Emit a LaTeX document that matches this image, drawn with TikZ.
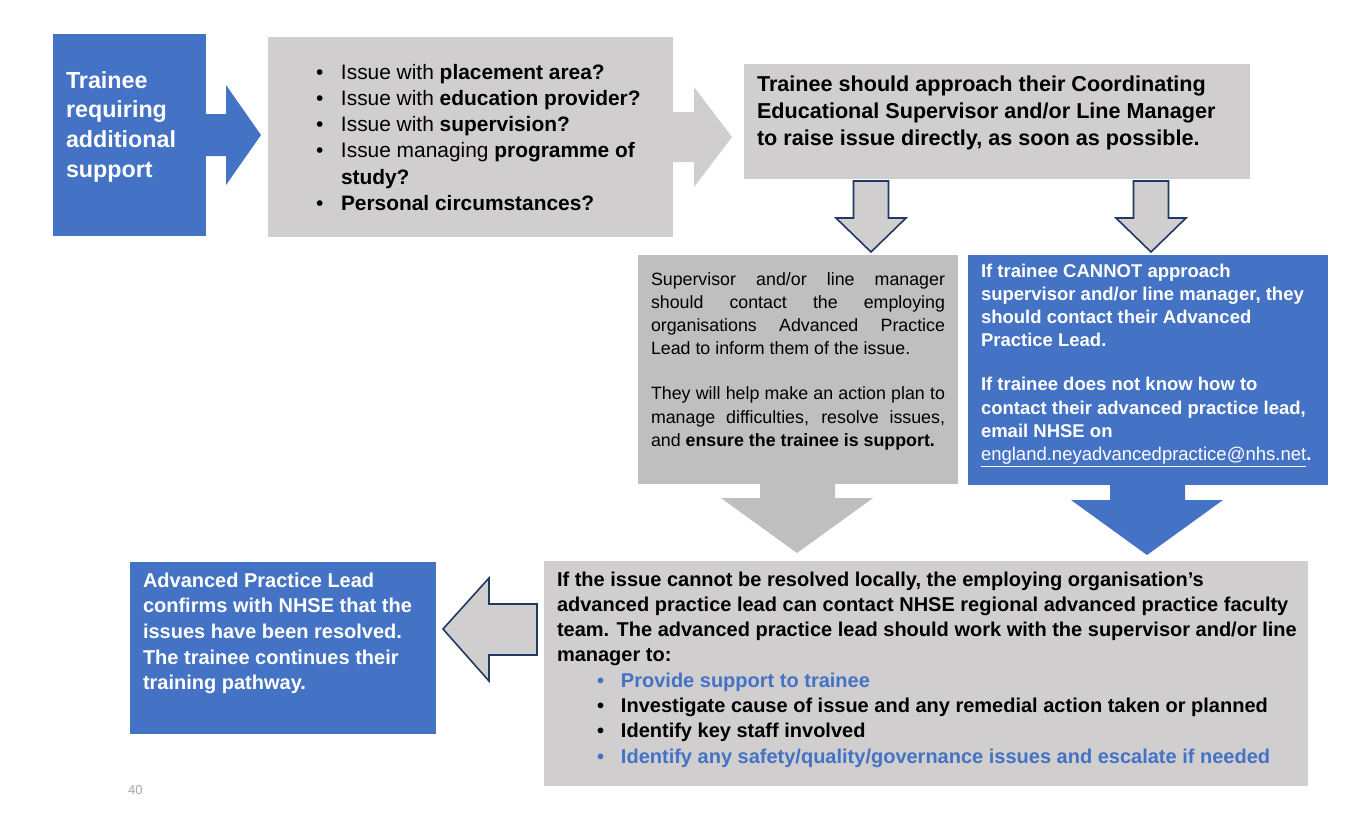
\documentclass[tikz,border=0pt]{standalone}
\usepackage{fontspec}
\setmainfont{Liberation Sans}
\definecolor{bblue}{HTML}{4472C4}
\definecolor{lgrey}{HTML}{D0CECE}
\definecolor{mgrey}{HTML}{BFBFBF}
\definecolor{navy}{HTML}{203864}
\definecolor{pgnum}{HTML}{A6A6A6}
\newcommand\bul[1]{\makebox[#1][l]{\textbullet}}
\begin{document}
\begin{tikzpicture}[x=1pt,y=-1pt,
  box/.style={draw=none, inner sep=0pt, outer sep=0pt, anchor=north west},
  txt/.style={inner sep=0pt, outer sep=0pt, anchor=north west, align=left},
  outarrow/.style={fill=lgrey, draw=navy, line width=1.6pt, line join=miter}]
\useasboundingbox (0,0) rectangle (1369,823);
\fill[white] (0,0) rectangle (1369,823);
% boxes
\node[box, fill=bblue, minimum width=153pt, minimum height=202pt] (b1) at (53,34) {};
\node[box, fill=lgrey, minimum width=405pt, minimum height=200pt] (b2) at (268,37) {};
\node[box, fill=lgrey, minimum width=506pt, minimum height=115pt] (b3) at (744,64) {};
\node[box, fill=mgrey, minimum width=320pt, minimum height=229pt] (b4) at (638,255) {};
\node[box, fill=bblue, minimum width=360pt, minimum height=230pt] (b5) at (968,255) {};
\node[box, fill=lgrey, minimum width=764pt, minimum height=225pt] (b6) at (544,561) {};
\node[box, fill=bblue, minimum width=306pt, minimum height=172pt] (b7) at (130,562) {};
% block arrows
\fill[bblue] (206,114) -- (226,114) -- (226,85) -- (261,135) -- (226,185) -- (226,156) -- (206,156) -- cycle;
\fill[lgrey] (673,112) -- (694,112) -- (694,87) -- (732,137) -- (694,187) -- (694,162) -- (673,162) -- cycle;
\draw[outarrow] (853.5,181) -- (888.5,181) -- (888.5,218) -- (906,218) -- (871,252) -- (836,218) -- (853.5,218) -- cycle;
\draw[outarrow] (1133.5,181) -- (1168.5,181) -- (1168.5,218) -- (1186,218) -- (1151,252) -- (1116,218) -- (1133.5,218) -- cycle;
\fill[mgrey] (760,483) -- (835,483) -- (835,498) -- (873,498) -- (797,553) -- (721,498) -- (760,498) -- cycle;
\fill[bblue] (1110,484) -- (1185,484) -- (1185,500) -- (1223,500) -- (1147,555) -- (1071,500) -- (1110,500) -- cycle;
\draw[outarrow] (537,604) -- (537,655) -- (489,655) -- (489,681) -- (443,629) -- (489,578) -- (489,604) -- cycle;
% texts
\node[txt, text=white, font=\fontsize{23.3}{29.9}\selectfont\bfseries] (t1) at (66,69.4)
  {\rule{0pt}{18.6pt}Trainee\\requiring\\additional\\support};
\node[txt, font=\fontsize{20.9}{26.3}\selectfont] (t2) at (316,62.3)
  {\rule{0pt}{16.7pt}\bul{25pt}Issue with \textbf{placement area?}\\
   \bul{25pt}Issue with \textbf{education provider?}\\
   \bul{25pt}Issue with \textbf{supervision?}\\
   \bul{25pt}Issue managing \textbf{programme of}\\
   \hspace*{25pt}\textbf{study?}\\
   \bul{25pt}\textbf{Personal circumstances?}};
\node[txt, font=\fontsize{21.6}{27}\selectfont\bfseries] (t3) at (757,73.7)
  {\rule{0pt}{17.3pt}Trainee should approach their Coordinating\\
   Educational Supervisor and/or Line Manager\\
   to raise issue directly, as soon as possible.};
\node[txt, text width=294pt, align=justify, font=\fontsize{17.8}{23.3}\selectfont] (t4) at (651,268.7)
  {\hyphenpenalty=10000 \parindent=0pt \strut Supervisor and/or line manager\linebreak should contact the employing\linebreak organisations Advanced Practice\linebreak Lead to inform them of the issue.\par\vspace{21.7pt}They will help make an action plan to\linebreak manage difficulties, resolve issues,\linebreak and \textbf{ensure the trainee is support.}};
\node[txt, text=white, font=\fontsize{18.5}{23.3}\selectfont\bfseries] (t5) at (981,262.2)
  {\rule{0pt}{14.8pt}If trainee CANNOT approach\\
   supervisor and/or line manager, they\\
   should contact their Advanced\\
   Practice Lead.\\[20.7pt]
   If trainee does not know how to\\
   contact their advanced practice lead,\\
   email NHSE on\\
   {\mdseries\underline{england.neyadvancedpractice@nhs.net}}.};
\node[txt, font=\fontsize{20}{25.3}\selectfont\bfseries] (t6) at (557,570)
  {\rule{0pt}{16pt}If the issue cannot be resolved locally, the employing organisation’s\\
   advanced practice lead can contact NHSE regional advanced practice faculty\\
   team. The advanced practice lead should work with the supervisor and/or line\\
   manager to:\\
   \hspace*{40pt}{\color{bblue}\bul{24pt}Provide support to trainee}\\
   \hspace*{40pt}\bul{24pt}Investigate cause of issue and any remedial action taken or planned\\
   \hspace*{40pt}\bul{24pt}Identify key staff involved\\
   \hspace*{40pt}{\color{bblue}\bul{24pt}Identify any safety/quality/governance issues and escalate if needed}};
\node[txt, text=white, font=\fontsize{20}{25.7}\selectfont\bfseries] (t7) at (143,571)
  {\rule{0pt}{16pt}Advanced Practice Lead\\
   confirms with NHSE that the\\
   issues have been resolved.\\
   The trainee continues their\\
   training pathway.};
\node[inner sep=0pt, anchor=base west, text=pgnum, font=\fontsize{13}{15}\selectfont] (pg) at (128,794) {40};
\end{tikzpicture}
\end{document}
